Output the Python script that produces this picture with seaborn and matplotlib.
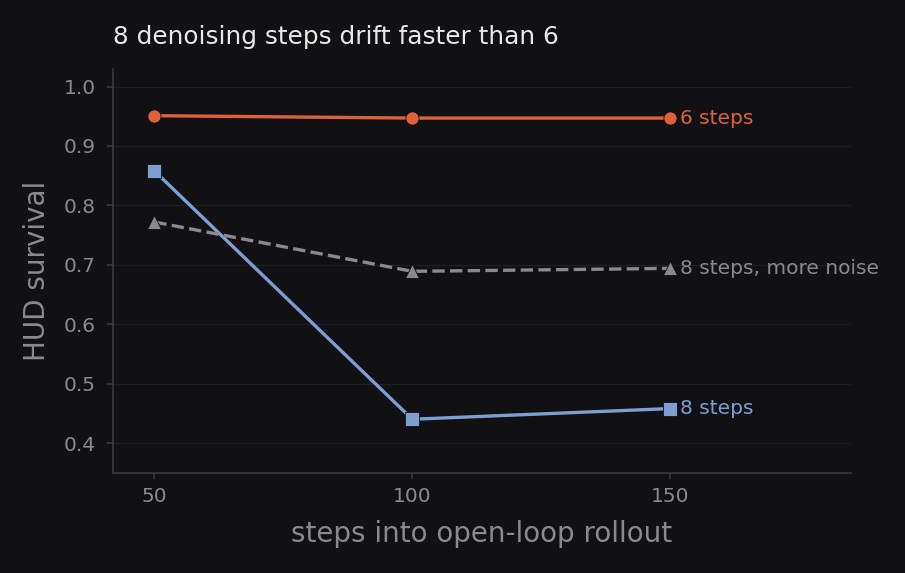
import pandas as pd
import matplotlib
matplotlib.use("Agg")
import matplotlib.pyplot as plt
import seaborn as sns

steps = [50, 100, 150]
six_steps = [0.951, 0.947, 0.947]
eight_steps = [0.858, 0.440, 0.458]
eight_noise = [0.772, 0.689, 0.694]

series = [
    ("6 steps", six_steps, "#e0603a", "o", "-"),
    ("8 steps", eight_steps, "#7b9fd0", "s", "-"),
    ("8 steps, more noise", eight_noise, "#8a8a8e", "^", "--"),
]

bg = "#111113"
sns.set_theme(style="dark")
plt.rcParams['font.family'] = ['DejaVu Sans']

fig, ax = plt.subplots(figsize=(9.05, 5.73), dpi=100)
fig.patch.set_facecolor(bg)
ax.set_facecolor(bg)

for name, vals, color, marker, ls in series:
    df = pd.DataFrame({"step": steps, "val": vals})
    sns.lineplot(data=df, x="step", y="val", ax=ax, color=color, marker=marker,
                 linestyle=ls, linewidth=2.4, markersize=9.5,
                 markeredgecolor=bg, markeredgewidth=0.6)
    ax.annotate(name, (steps[-1], vals[-1]), xytext=(7, 0), textcoords="offset points",
                color=color, fontsize=14.5, va="center", ha="left")

ax.set_xlim(42, 185)
ax.set_ylim(0.35, 1.03)
ax.set_xticks(steps)
ax.set_yticks([0.4, 0.5, 0.6, 0.7, 0.8, 0.9, 1.0])
ax.yaxis.grid(True, color="#1f1f23", linewidth=1)
ax.xaxis.grid(False)

for side in ["top", "right"]:
    ax.spines[side].set_visible(False)
for side in ["left", "bottom"]:
    ax.spines[side].set_color("#3a3a3e")
    ax.spines[side].set_linewidth(1.2)

ax.tick_params(colors="#8a8a8e", labelsize=14.5, length=4.5, width=1.2, pad=6,
               left=True, bottom=True)
ax.tick_params(axis="y", pad=8)
ax.tick_params(axis="both", color="#3a3a3e")
ax.set_xlabel("steps into open-loop rollout", color="#8a8a8e", fontsize=20, labelpad=10)
ax.set_ylabel("HUD survival", color="#8a8a8e", fontsize=20, labelpad=9)
ax.set_title("8 denoising steps drift faster than 6", color="#e8e8e8", fontsize=17.8,
             loc="left", pad=18)

fig.subplots_adjust(left=0.125, right=0.94, top=0.88, bottom=0.175)
fig.savefig("out.png", dpi=100, facecolor=bg)
